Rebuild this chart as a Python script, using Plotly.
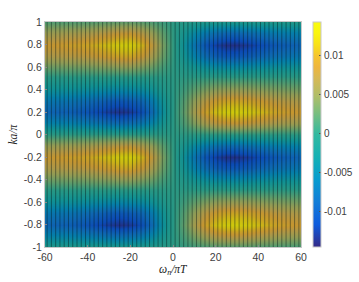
import plotly.graph_objects as go

omega = [-60,-55,-50,-45,-40,-35,-30,-25,-20,-15,-10,-5,0,5,10,15,20,25,30,35,40,45,50,55,60]
k_values = [-1.0,-0.9,-0.8,-0.7,-0.6,-0.5,-0.4,-0.3,-0.2,-0.1,0.0,0.1,0.2,0.3,0.4,0.5,0.6,0.7,0.8,0.9,1.0]
UNIT = 1e-4
# values, in units of 1e-4; rows run from k=-1 to k=1
z_units = [
 [-11,-11,-11,-12,-13,-14,-15,-16,-16,-14,-10,-5,0,4,9,14,18,19,20,19,17,16,14,14,13],
 [-54,-55,-57,-60,-65,-71,-77,-81,-78,-69,-51,-24,-1,15,36,57,71,77,78,75,69,63,57,54,51],
 [-90,-92,-95,-100,-108,-118,-128,-135,-130,-115,-85,-40,-2,25,60,95,118,128,130,125,115,105,95,90,85],
 [-70,-72,-74,-78,-84,-92,-100,-105,-101,-90,-66,-31,-2,20,47,74,92,100,101,98,90,82,74,70,66],
 [-34,-35,-36,-38,-41,-45,-49,-51,-49,-44,-32,-15,-1,10,24,38,47,51,52,50,46,42,38,36,34],
 [-5,-5,-5,-5,-5,-6,-6,-7,-7,-6,-4,-2,0,1,2,4,5,5,5,5,5,4,4,4,3],
 [30,31,32,33,35,38,41,45,46,39,28,13,1,-12,-26,-37,-44,-47,-47,-45,-41,-38,-35,-33,-32],
 [66,69,72,74,78,84,92,100,101,87,62,30,2,-27,-58,-82,-98,-105,-105,-100,-92,-84,-78,-74,-70],
 [85,88,92,95,100,108,118,128,130,112,80,38,2,-34,-74,-105,-125,-135,-135,-128,-118,-108,-100,-95,-90],
 [53,55,57,59,62,67,73,79,81,69,50,24,1,-21,-46,-65,-78,-84,-84,-79,-73,-67,-62,-59,-56],
 [3,3,4,4,4,5,5,5,5,4,3,1,0,-1,-3,-4,-5,-5,-5,-5,-4,-4,-4,-3,-3],
 [-56,-57,-59,-62,-67,-73,-79,-84,-81,-71,-53,-25,-1,16,39,62,77,83,85,81,75,68,62,59,55],
 [-90,-92,-95,-100,-108,-118,-128,-135,-130,-115,-85,-40,-2,25,60,95,118,128,130,125,115,105,95,90,85],
 [-70,-72,-74,-78,-84,-92,-100,-105,-101,-90,-66,-31,-2,20,47,74,92,100,101,98,90,82,74,70,66],
 [-34,-35,-36,-38,-41,-45,-49,-51,-49,-44,-32,-15,-1,10,24,38,47,51,52,50,46,42,38,36,34],
 [-5,-5,-5,-5,-5,-6,-6,-7,-7,-6,-4,-2,0,1,2,4,5,5,5,5,5,4,4,4,3],
 [30,31,32,33,35,38,41,45,46,39,28,13,1,-12,-26,-37,-44,-47,-47,-45,-41,-38,-35,-33,-32],
 [66,69,72,74,78,84,92,100,101,87,62,30,2,-27,-58,-82,-98,-105,-105,-100,-92,-84,-78,-74,-70],
 [85,88,92,95,100,108,118,128,130,112,80,38,2,-34,-74,-105,-125,-135,-135,-128,-118,-108,-100,-95,-90],
 [55,57,60,62,65,70,77,83,85,73,52,25,1,-22,-48,-68,-81,-88,-88,-83,-77,-70,-65,-62,-59],
 [17,18,18,19,20,22,24,26,26,22,16,8,0,-4,-9,-13,-15,-16,-16,-15,-14,-13,-12,-11,-11],
]
z = [[v * UNIT for v in row] for row in z_units]

# Matsubara frequencies where the dark mesh lines lie
mesh_omega = [-59,-57,-55,-53,-51,-49,-47,-45,-43,-41,-39,-37,-35,-33,-31,-29,-27,-25,-23,-21,-19,-17,-15,-13,-11,-9,-7,-5,-3,-1,
              1,3,5,7,9,11,13,15,17,19,21,23,25,27,29,31,33,35,37,39,41,43,45,47,49,51,53,55,57,59]

x_ticks = [-60,-40,-20,0,20,40,60]
y_ticks = [-1,-0.8,-0.6,-0.4,-0.2,0,0.2,0.4,0.6,0.8,1]
y_labels = ["-1","-0.8","-0.6","-0.4","-0.2","0","0.2","0.4","0.6","0.8","1"]
cb_ticks = [-0.01,-0.005,0,0.005,0.01]
cb_labels = ["-0.01","-0.005","0","0.005","0.01"]
z_min, z_max = -0.0145, 0.0143

parula = [[0,"rgb(53,42,135)"],[0.1,"rgb(15,92,221)"],[0.2,"rgb(18,125,216)"],[0.3,"rgb(7,156,207)"],
          [0.4,"rgb(21,177,180)"],[0.5,"rgb(50,185,160)"],[0.6,"rgb(125,190,125)"],[0.67,"rgb(175,190,105)"],
          [0.75,"rgb(215,185,85)"],[0.8,"rgb(238,182,62)"],[0.85,"rgb(245,197,45)"],[0.9,"rgb(248,225,25)"],[0.95,"rgb(250,245,15)"],[1,"rgb(249,251,14)"]]

font = "Liberation Sans"
txt = "#404040"
fig = go.Figure()
fig.add_trace(go.Heatmap(x=omega, y=k_values, z=z, zmin=z_min, zmax=z_max, zsmooth="best", colorscale=parula,
    opacity=0.82, hoverinfo="skip",
    colorbar=dict(x=1.048, xanchor="left", xpad=0, y=0.5, yanchor="middle", len=1.0, ypad=0, thickness=7.5,
                  outlinecolor="#c8c8c8", outlinewidth=1, tickmode="array", tickvals=cb_ticks, ticktext=cb_labels,
                  ticks="inside", ticklen=2, tickcolor="#505050", tickfont=dict(family=font, size=10, color=txt))))

xs, ys = [], []
for w in mesh_omega:
    xs += [w, w, None]
    ys += [-1, 1, None]
fig.add_trace(go.Scatter(x=xs, y=ys, mode="lines", line=dict(color="rgba(0,20,20,0.42)", width=1), hoverinfo="skip", showlegend=False))

axis = dict(showline=True, linecolor="#c8c8c8", linewidth=1, mirror=True, showgrid=False, zeroline=False, automargin=False,
            ticks="inside", ticklen=2, tickcolor="#888888", tickfont=dict(family=font, size=10.5, color=txt))
fig.update_layout(width=359, height=282, autosize=False, paper_bgcolor="white", plot_bgcolor="black",
    margin=dict(l=45, r=58, t=22, b=34.5, autoexpand=False), showlegend=False,
    xaxis=dict(range=[-60,60], tickmode="array", tickvals=x_ticks, ticktext=[str(t) for t in x_ticks], **axis),
    yaxis=dict(range=[-1,1], tickmode="array", tickvals=y_ticks, ticktext=y_labels, **axis),
    annotations=[
        dict(text="<i>ω<sub>n</sub>/πT</i>", xref="x domain", yref="y domain", x=0.5, y=0, yshift=-14, yanchor="top",
             xanchor="center", showarrow=False, font=dict(family="Liberation Serif", size=11.5, color="#202020")),
        dict(text="<i>ka/π</i>", xref="x domain", yref="y domain", x=0, y=0.5, xshift=-33, xanchor="center", yanchor="middle",
             textangle=-90, showarrow=False, font=dict(family="Liberation Serif", size=11.5, color="#202020")),
    ])
fig.write_html("out.html", post_script="document.body.style.margin='0';", config={"displayModeBar": False})
